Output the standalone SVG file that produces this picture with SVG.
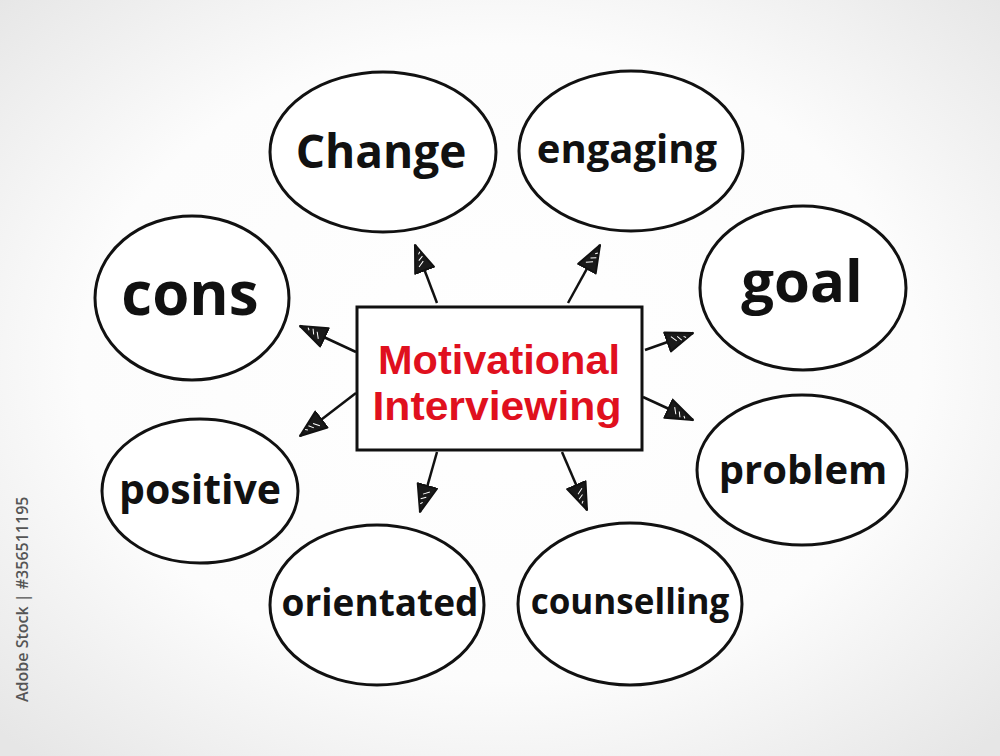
<svg xmlns="http://www.w3.org/2000/svg" width="1000" height="756" viewBox="0 0 1000 756">
<defs>
<radialGradient id="bg" cx="50%" cy="48%" r="70%">
<stop offset="0" stop-color="#ffffff"/>
<stop offset="0.6" stop-color="#fcfcfc"/>
<stop offset="1" stop-color="#e6e6e6"/>
</radialGradient>
<marker id="ah" viewBox="0 0 30 24" refX="28" refY="12" markerWidth="30" markerHeight="24" markerUnits="userSpaceOnUse" orient="auto">
<path d="M1,2 L28,12 L1,22 Z" fill="#1a1a1a" stroke="#111" stroke-width="2" stroke-linejoin="round"/>
<path d="M6,8 L10,14 M12,10 L15,15 M18,12 L20,14" stroke="#fff" stroke-width="1"/>
</marker>
<style>
.node ellipse{fill:#ffffff;stroke:#111;stroke-width:3}
.lbl{font-family:"Open Sans","Liberation Sans",sans-serif;font-weight:700;fill:#111;text-anchor:middle}
.conn line{stroke:#111;stroke-width:2.5;marker-end:url(#ah)}
.title{font-family:"Liberation Sans",sans-serif;font-weight:700;fill:#e0101e;text-anchor:middle;font-size:40px}
</style>
</defs>
<rect width="1000" height="756" fill="url(#bg)"/>
<text transform="translate(28,702) rotate(-90)" font-family="'Open Sans','Liberation Sans',sans-serif" font-size="16" font-weight="600" fill="#555">Adobe Stock | #356511195</text>

<g class="conn">
<line x1="437" y1="303" x2="415" y2="245"/>
<line x1="568" y1="303" x2="600" y2="245"/>
<line x1="356" y1="352" x2="300" y2="326"/>
<line x1="645" y1="350" x2="693" y2="333"/>
<line x1="356" y1="393" x2="300" y2="436"/>
<line x1="643" y1="397" x2="693" y2="420"/>
<line x1="437" y1="452" x2="420" y2="512"/>
<line x1="562" y1="452" x2="587" y2="510"/>
</g>

<g id="center">
<rect x="357" y="307" width="285" height="143" fill="#fff" stroke="#111" stroke-width="3"/>
<text class="title" x="499" y="374" textLength="242" lengthAdjust="spacingAndGlyphs">Motivational</text>
<text class="title" x="497" y="420" textLength="249" lengthAdjust="spacingAndGlyphs">Interviewing</text>
</g>

<g id="n-change" class="node"><ellipse cx="383" cy="152" rx="113" ry="80"/><text class="lbl" x="381" y="168" font-size="46">Change</text></g>
<g id="n-engaging" class="node"><ellipse cx="631" cy="151" rx="112" ry="80"/><text class="lbl" x="627" y="163" font-size="40">engaging</text></g>
<g id="n-goal" class="node"><ellipse cx="803" cy="288" rx="103" ry="82"/><text class="lbl" x="802" y="302" font-size="58">goal</text></g>
<g id="n-cons" class="node"><ellipse cx="192" cy="298" rx="97" ry="82"/><text class="lbl" x="190" y="315" font-size="60">cons</text></g>
<g id="n-positive" class="node"><ellipse cx="200" cy="491" rx="98" ry="72"/><text class="lbl" x="200" y="504" font-size="41">positive</text></g>
<g id="n-problem" class="node"><ellipse cx="802" cy="470" rx="105" ry="75"/><text class="lbl" x="803" y="484" font-size="40">problem</text></g>
<g id="n-orientated" class="node"><ellipse cx="377" cy="605" rx="107" ry="80"/><text class="lbl" x="380" y="616" font-size="37">orientated</text></g>
<g id="n-counselling" class="node"><ellipse cx="630" cy="604" rx="112" ry="81"/><text class="lbl" x="630" y="614" font-size="35">counselling</text></g>
</svg>
